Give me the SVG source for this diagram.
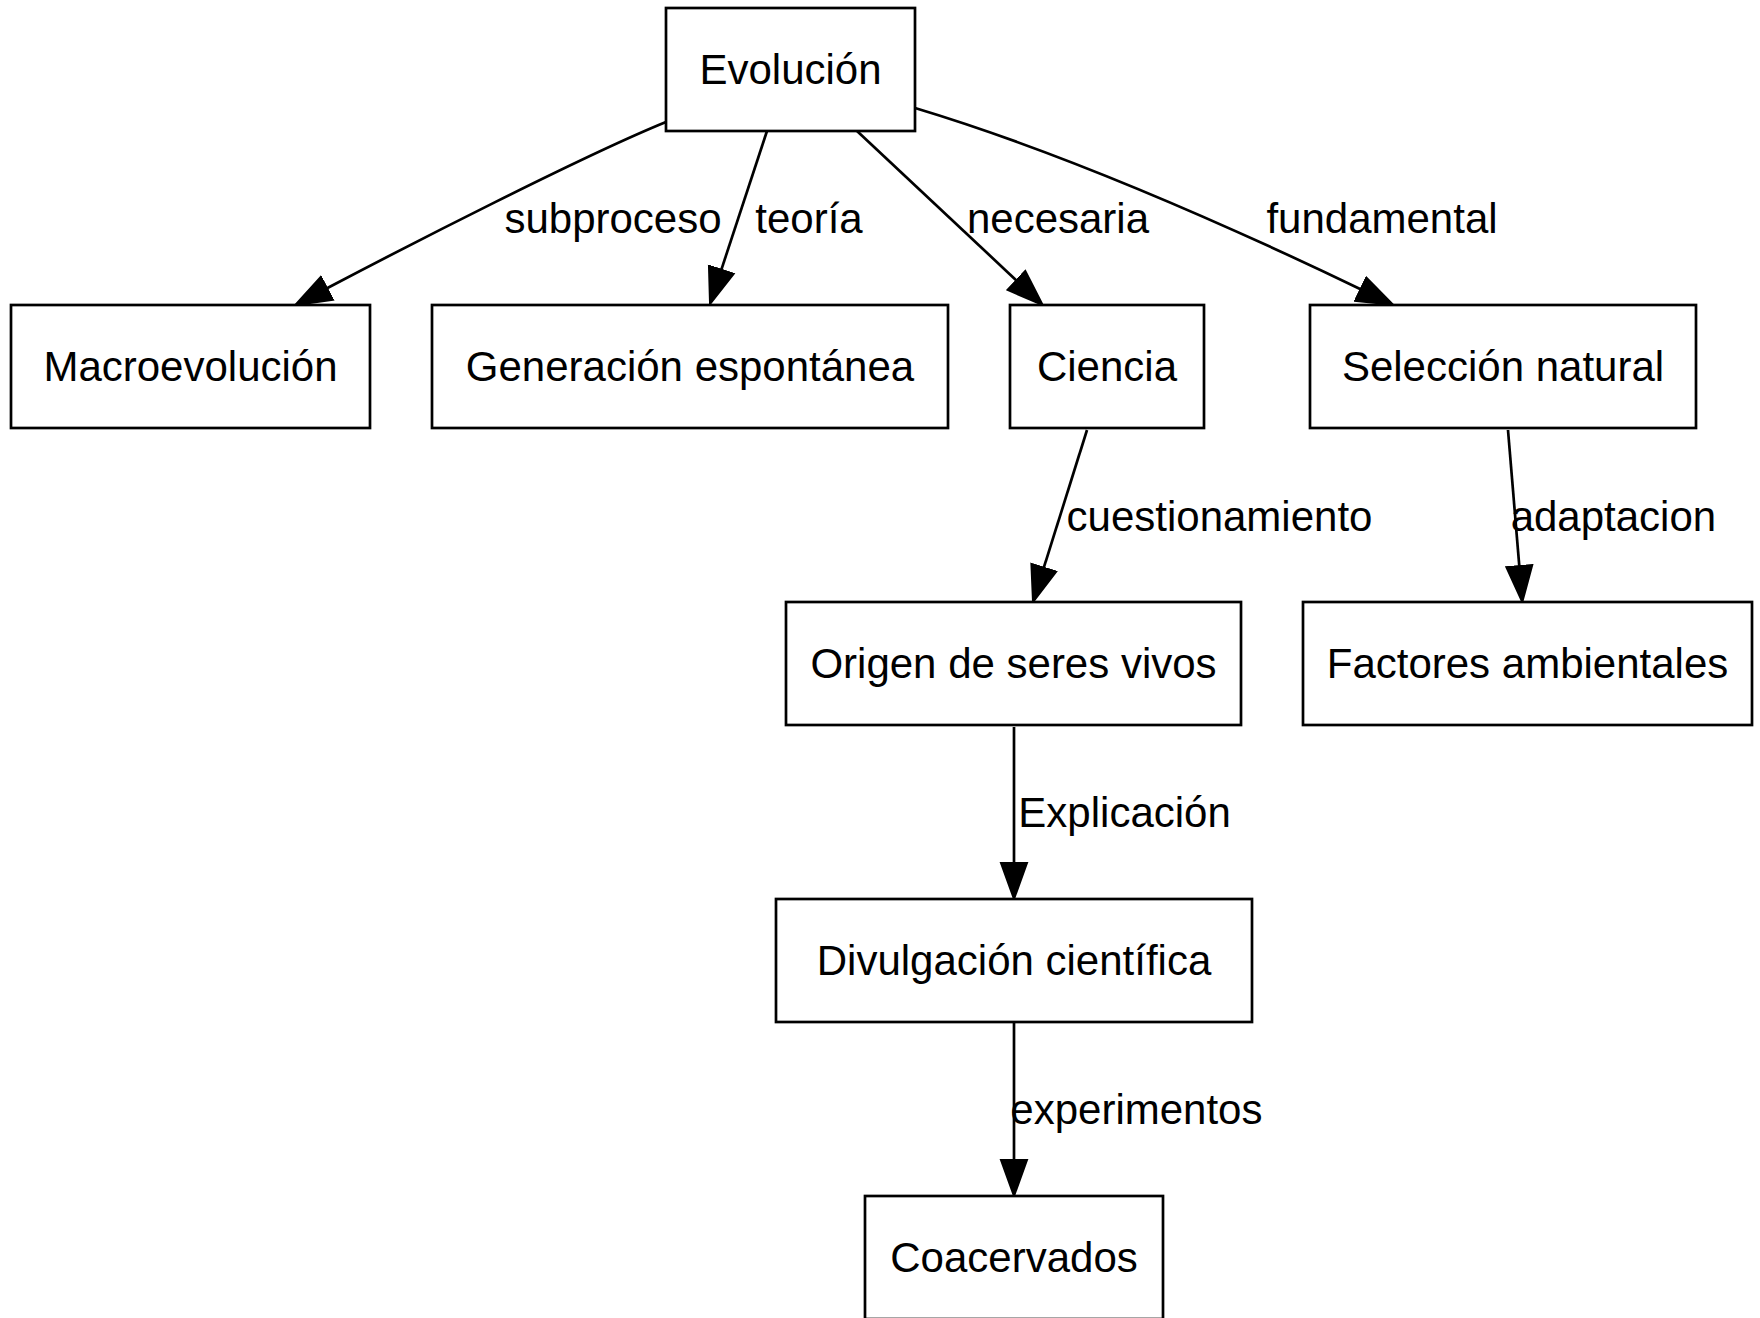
<svg xmlns="http://www.w3.org/2000/svg" width="1760" height="1318" viewBox="0 0 1760 1318">
<style>
.node rect{fill:#fff;stroke:#000;stroke-width:2.7}
.node text{font-family:"Liberation Sans",Arial,sans-serif;font-size:42px;text-anchor:middle;fill:#000}
.edge path{fill:none;stroke:#000;stroke-width:2.7}
.lbl{font-family:"Liberation Sans",Arial,sans-serif;font-size:42px;text-anchor:middle;fill:#000}
</style>
<defs>
<marker id="arr" markerUnits="userSpaceOnUse" markerWidth="38" markerHeight="30" viewBox="-1 -2 38 30" refX="0" refY="13" orient="auto">
<path d="M0,0 L36,13 L0,26 z" fill="#000" stroke="#000" stroke-width="2"/>
</marker>
</defs>
<rect width="1760" height="1318" fill="#fff"/>
<g id="edges" class="edge">
<path d="M666,122 C582.7,155.9 406.7,246.3 327,288.3" marker-end="url(#arr)"/>
<text class="lbl" x="613" y="232.5">subproceso</text>
<path d="M767,131 L721.3,269.8" marker-end="url(#arr)"/>
<text class="lbl" x="809" y="232.5">teoría</text>
<path d="M857,131 L1016.4,280.4" marker-end="url(#arr)"/>
<text class="lbl" x="1058" y="232.5">necesaria</text>
<path d="M915,108 C1058.7,151.2 1225.4,224.2 1360.6,289.2" marker-end="url(#arr)"/>
<text class="lbl" x="1382" y="232.5">fundamental</text>
<path d="M1087,430 L1043.8,567.7" marker-end="url(#arr)"/>
<text class="lbl" x="1219.5" y="530.5">cuestionamiento</text>
<path d="M1508,430 L1519.3,566.1" marker-end="url(#arr)"/>
<text class="lbl" x="1613.4" y="530.5">adaptacion</text>
<path d="M1014,727 L1014,863" marker-end="url(#arr)"/>
<text class="lbl" x="1124.6" y="826.5">Explicación</text>
<path d="M1014,1022 L1014,1160" marker-end="url(#arr)"/>
<text class="lbl" x="1136.4" y="1123.5">experimentos</text>
</g>
<g id="n-evolucion" class="node"><rect x="666" y="8" width="249" height="123"/><text x="790.5" y="83.5">Evolución</text></g>
<g id="n-macro" class="node"><rect x="11" y="305" width="359" height="123"/><text x="190.5" y="380.5">Macroevolución</text></g>
<g id="n-generacion" class="node"><rect x="432" y="305" width="516" height="123"/><text x="690" y="380.5">Generación espontánea</text></g>
<g id="n-ciencia" class="node"><rect x="1010" y="305" width="194" height="123"/><text x="1107" y="380.5">Ciencia</text></g>
<g id="n-seleccion" class="node"><rect x="1310" y="305" width="386" height="123"/><text x="1503" y="380.5">Selección natural</text></g>
<g id="n-origen" class="node"><rect x="786" y="602" width="455" height="123"/><text x="1013.5" y="677.5">Origen de seres vivos</text></g>
<g id="n-factores" class="node"><rect x="1303" y="602" width="449" height="123"/><text x="1527.5" y="677.5">Factores ambientales</text></g>
<g id="n-divulgacion" class="node"><rect x="776" y="899" width="476" height="123"/><text x="1014" y="974.5">Divulgación científica</text></g>
<g id="n-coacervados" class="node"><rect x="865" y="1196" width="298" height="123"/><text x="1014" y="1271.5">Coacervados</text></g>
</svg>
